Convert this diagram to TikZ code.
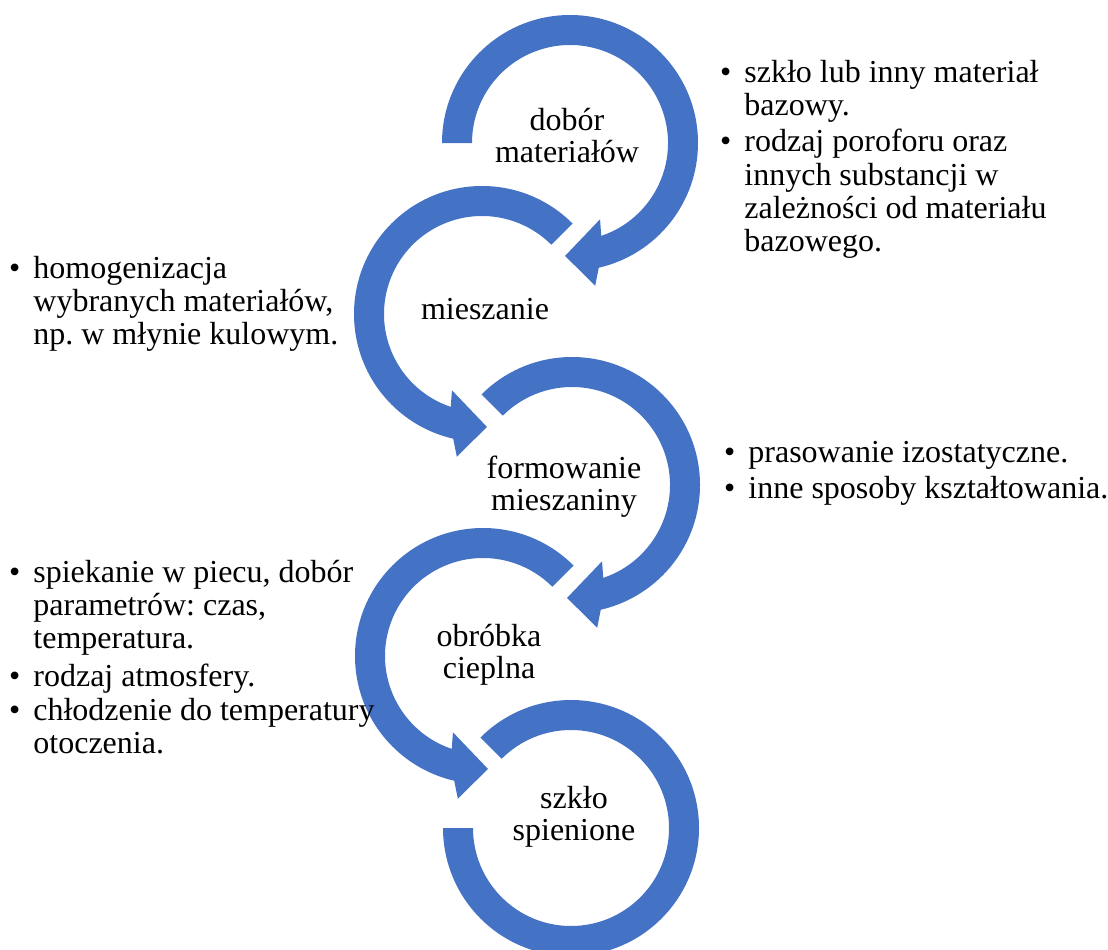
\documentclass[tikz,border=0pt]{standalone}
\usepackage{fontspec}
\setmainfont{Liberation Serif}
\usepackage{tikz}
\frenchspacing
\definecolor{niebieski}{HTML}{4472C4}
\definecolor{tekst}{HTML}{000000}
\tikzset{
  luk/.style={fill=niebieski, draw=none},
  etap/.style={text=tekst, align=center, inner sep=0pt, font=\fontsize{32}{32}\selectfont},
  opis/.style={text=tekst, anchor=base west, inner sep=0pt, font=\fontsize{32}{33}\selectfont},
}
% luk ze strzalka: #1 srodek, #2 kat poczatku, #3 odbicie (1 lub -1)
\newcommand{\strzalka}[3]{%
  \fill[luk, shift={(#1)}, xscale=#3]
    (#2:128pt) arc[start angle=#2, end angle=-77, radius=128pt]
    -- (-80:145pt) -- (-92.5:113pt) -- (-68.5:82pt) -- (-71.4:98pt)
    arc[start angle=-71.4, end angle=#2, radius=98pt] -- cycle;}

\begin{document}
\begin{tikzpicture}[x=1pt,y=1pt]
  \useasboundingbox (0,0) rectangle (1108,-950);
  \clip (0,0) rectangle (1108,-950);
  % srodki kol
  \coordinate (s1) at (570,-143);
  \coordinate (s2) at (482,-314);
  \coordinate (s3) at (572,-485);
  \coordinate (s4) at (483,-656);
  \coordinate (s5) at (571,-828);
  \strzalka{s1}{180}{1}
  \strzalka{s2}{135}{-1}
  \strzalka{s3}{135}{1}
  \strzalka{s4}{135}{-1}
  \fill[luk, shift={(s5)}] (135:128pt) arc[start angle=135, end angle=-180, radius=128pt]
    -- (180:98pt) arc[start angle=-180, end angle=135, radius=98pt] -- cycle;
  % etapy
  \node[etap] (dobor) at (567,-136) {dobór\\materiałów};
  \node[etap] (mieszanie) at (485,-309) {mieszanie};
  \node[etap] (formowanie) at (564,-487) {formowanie\\mieszaniny};
  \node[etap] (obrobka) at (489,-655) {obróbka\\cieplna};
  \node[etap] (szklo) at (574,-817) {szkło\\spienione};
  % opisy
  \node[opis] (opis1) at (720,-82) {\begin{tabular}[t]{@{}l@{\hspace{13pt}}l@{}}
    \textbullet & szkło lub inny materiał\\
    & bazowy.\\[4pt]
    \textbullet & rodzaj poroforu oraz\\
    & innych substancji w\\
    & zależności od materiału\\
    & bazowego.
  \end{tabular}};
  \node[opis] (opis2) at (9,-278) {\begin{tabular}[t]{@{}l@{\hspace{13pt}}l@{}}
    \textbullet & homogenizacja\\
    & wybranych materiałów,\\
    & np. w młynie kulowym.
  \end{tabular}};
  \node[opis] (opis3) at (724,-462) {\begin{tabular}[t]{@{}l@{\hspace{13pt}}l@{}}
    \textbullet & prasowanie izostatyczne.\\[3pt]
    \textbullet & inne sposoby kształtowania.
  \end{tabular}};
  \node[opis] (opis4) at (9,-582) {\begin{tabular}[t]{@{}l@{\hspace{13pt}}l@{}}
    \textbullet & spiekanie w piecu, dobór\\
    & parametrów: czas,\\
    & temperatura.\\[5pt]
    \textbullet & rodzaj atmosfery.\\[1pt]
    \textbullet & chłodzenie do temperatury\\
    & otoczenia.
  \end{tabular}};
\end{tikzpicture}
\end{document}
